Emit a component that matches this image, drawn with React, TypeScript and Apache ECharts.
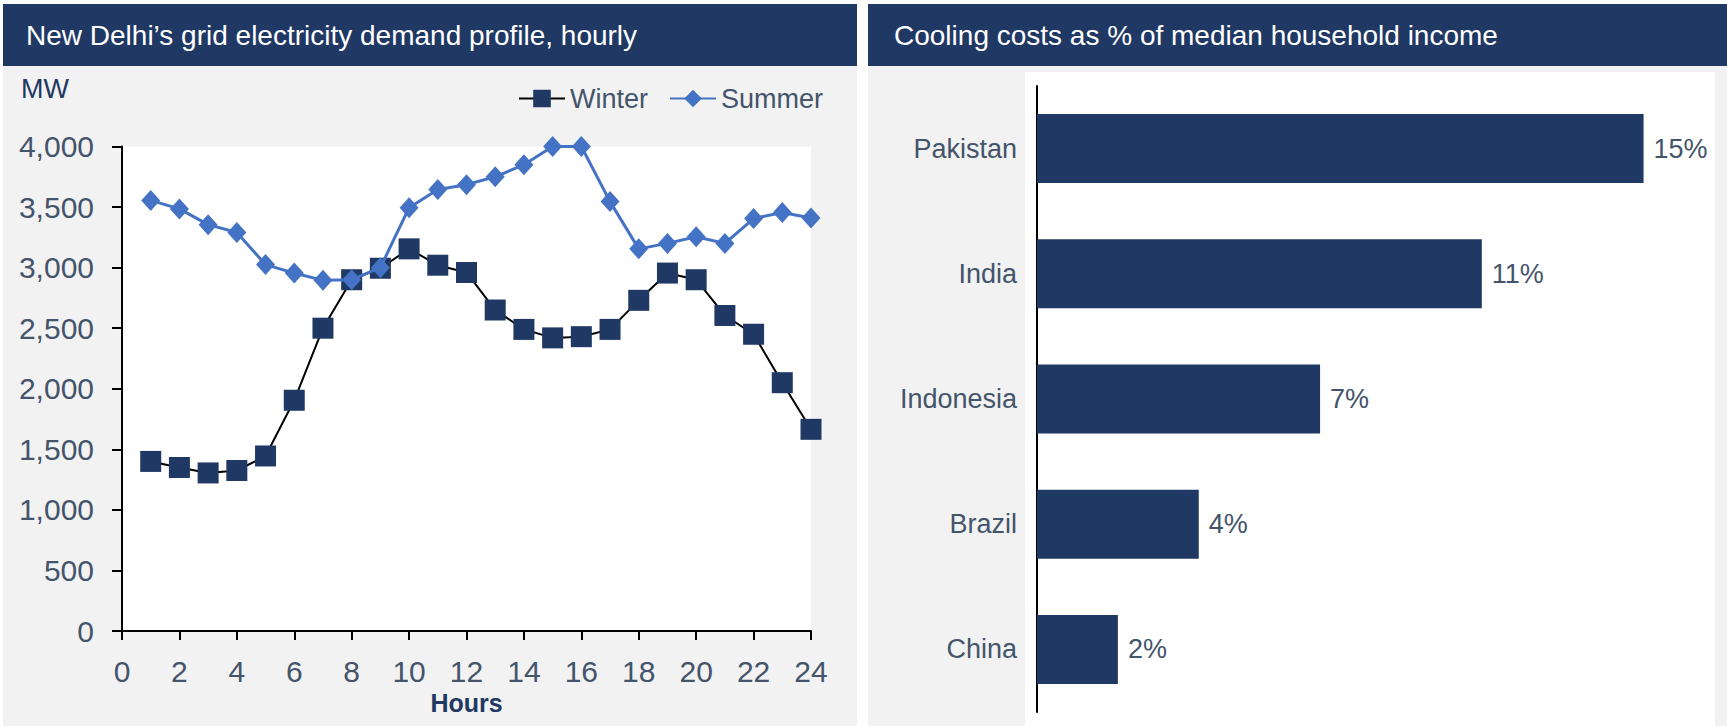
import React, { useEffect, useRef } from "react";
import * as echarts from "echarts";

// ---- Data ----
const hours = [1, 2, 3, 4, 5, 6, 7, 8, 9, 10, 11, 12, 13, 14, 15, 16, 17, 18, 19, 20, 21, 22, 23, 24];
const winterMW = [1400, 1350, 1305, 1325, 1445, 1905, 2500, 2900, 2995, 3155, 3020, 2960, 2650, 2490, 2420, 2430, 2490, 2730, 2955, 2900, 2605, 2450, 2050, 1665];
const summerMW = [3555, 3485, 3355, 3290, 3025, 2955, 2895, 2900, 3000, 3495, 3645, 3685, 3750, 3850, 4000, 4000, 3545, 3155, 3200, 3255, 3200, 3405, 3455, 3410];
const countries = ["Pakistan", "India", "Indonesia", "Brazil", "China"];
const coolingShare = [15, 11, 7, 4, 2];

const leftTitle = "New Delhi\u2019s grid electricity demand profile, hourly";
const rightTitle = "Cooling costs as % of median household income";

const FONT = "'Liberation Sans', Arial, sans-serif";
const NAVY = "#1f3864";
const BLUE = "#4472c4";
const TEXT = "#44546a";
const GREY = "#f2f2f2";

export default function App() {
  const ref = useRef<HTMLDivElement>(null);

  useEffect(() => {
    if (!ref.current) return;
    const chart = echarts.init(ref.current, null, { renderer: "svg" });
    const option: any = {
      animation: false,
      backgroundColor: "#ffffff",
      textStyle: { fontFamily: FONT },
      graphic: [
        { type: "rect", z: -10, shape: { x: 3, y: 66, width: 854, height: 660 }, style: { fill: GREY } },
        { type: "rect", z: -10, shape: { x: 3, y: 4, width: 854, height: 62 }, style: { fill: NAVY } },
        { type: "rect", z: -10, shape: { x: 868, y: 66, width: 859, height: 660 }, style: { fill: GREY } },
        { type: "rect", z: -10, shape: { x: 868, y: 4, width: 859, height: 62 }, style: { fill: NAVY } },
        { type: "rect", z: -9, shape: { x: 1025, y: 72, width: 690, height: 654 }, style: { fill: "#ffffff" } },
        {
          type: "text", left: 26, top: 21,
          style: { text: leftTitle, fill: "#ffffff", font: `28px ${FONT}` },
        },
        {
          type: "text", left: 894, top: 21,
          style: { text: rightTitle, fill: "#ffffff", font: `28px ${FONT}` },
        },
        {
          type: "text", left: 21, top: 75,
          style: { text: "MW", fill: NAVY, font: `27px ${FONT}` },
        },
      ],
      legend: {
        left: 513,
        top: 80,
        itemWidth: 46,
        itemHeight: 22,
        itemGap: 21,
        textStyle: { fontSize: 27, color: TEXT, fontFamily: FONT },
        data: ["Winter", "Summer"],
      },
      grid: [
        {
          left: 122, top: 146.5, width: 689, height: 484.5,
          show: true, backgroundColor: "#ffffff", borderWidth: 0,
        },
        {
          left: 1037, top: 86, width: 647, height: 626,
          show: false,
        },
      ],
      xAxis: [
        {
          type: "value", gridIndex: 0, min: 0, max: 24, interval: 2,
          name: "Hours", nameLocation: "middle", nameGap: 45,
          nameTextStyle: { fontSize: 25, fontWeight: "bold", color: NAVY, fontFamily: FONT },
          axisLine: { show: true, lineStyle: { color: "#000", width: 2 } },
          axisTick: { show: true, length: 9, lineStyle: { color: "#000", width: 2 } },
          axisLabel: { fontSize: 30, color: TEXT, margin: 25, fontFamily: FONT },
          splitLine: { show: false },
        },
        {
          type: "value", gridIndex: 1, min: 0, max: 16, show: false,
        },
      ],
      yAxis: [
        {
          type: "value", gridIndex: 0, min: 0, max: 4000, interval: 500,
          axisLine: { show: true, lineStyle: { color: "#000", width: 2 } },
          axisTick: { show: true, length: 10, lineStyle: { color: "#000", width: 2 } },
          axisLabel: { fontSize: 30, color: TEXT, margin: 28, fontFamily: FONT },
          splitLine: { show: false },
        },
        {
          type: "category", gridIndex: 1, data: countries, inverse: true,
          axisLine: { show: true, lineStyle: { color: "#000", width: 2 } },
          axisTick: { show: false },
          axisLabel: { fontSize: 27, color: TEXT, margin: 20, fontFamily: FONT },
        },
      ],
      series: [
        {
          name: "Winter", type: "line", xAxisIndex: 0, yAxisIndex: 0,
          data: hours.map((h, i) => [h, winterMW[i]]),
          symbol: "rect", symbolSize: 21,
          lineStyle: { color: "#000", width: 2 },
          itemStyle: { color: NAVY },
          z: 2,
        },
        {
          name: "Summer", type: "line", xAxisIndex: 0, yAxisIndex: 0,
          data: hours.map((h, i) => [h, summerMW[i]]),
          symbol: "diamond", symbolSize: [19, 21],
          lineStyle: { color: BLUE, width: 3 },
          itemStyle: { color: BLUE },
          z: 3,
        },
        {
          name: "Cooling", type: "bar", xAxisIndex: 1, yAxisIndex: 1,
          data: coolingShare,
          barWidth: 69,
          itemStyle: { color: NAVY },
          label: {
            show: true, position: "right", distance: 10,
            formatter: "{c}%", fontSize: 27, color: TEXT, fontFamily: FONT,
          },
        },
      ],
    };
    chart.setOption(option);
    return () => chart.dispose();
  }, []);

  return (
    <div
      ref={ref}
      style={{ position: "absolute", left: 0, top: 0, width: 1727, height: 728 }}
    />
  );
}
